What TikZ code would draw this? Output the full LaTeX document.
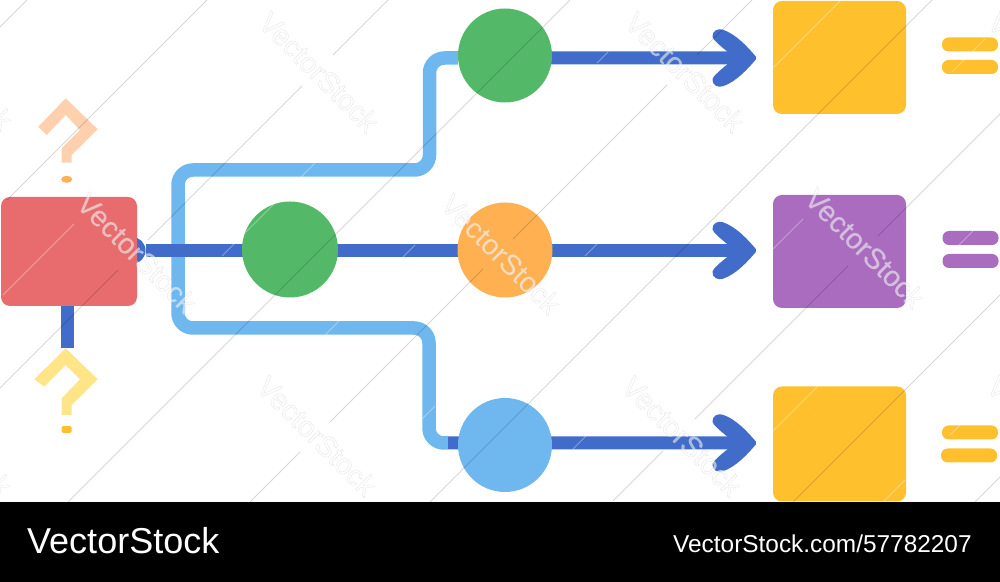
\documentclass[tikz,border=0pt]{standalone}
\usepackage{fontspec}
\setmainfont{Liberation Sans}
\usetikzlibrary{shapes.geometric}
\definecolor{c_red}{HTML}{E86C6D}
\definecolor{c_amber}{HTML}{FFC02E}
\definecolor{c_purple}{HTML}{A96CBF}
\definecolor{c_green}{HTML}{53B969}
\definecolor{c_orange}{HTML}{FFB050}
\definecolor{c_sky}{HTML}{6FB7EF}
\definecolor{c_blue}{HTML}{426CC9}
\definecolor{c_peach}{HTML}{FFD0AE}
\definecolor{c_pale}{HTML}{FFE587}
\newcommand{\wmtext}{\special{pdf:literal direct 2 Tr 0.3 w 0.78 0.78 0.78 RG}VectorStock\special{pdf:literal direct 0 Tr}}
\pgfdeclarelayer{behind}
\pgfsetlayers{behind,main}
\pgfdeclarearrow{
  name=fatbarb,
  setup code={
    \pgfarrowssettipend{0pt}
    \pgfarrowssetlineend{-16bp}
    \pgfarrowssetbackend{-43bp}
  },
  drawing code={
    \pgfpathmoveto{\pgfpoint{0bp}{1.5bp}}
    \pgfpathcurveto{\pgfpoint{-8bp}{11bp}}{\pgfpoint{-20bp}{24bp}}{\pgfpoint{-33bp}{28.3bp}}
    \pgfpathcurveto{\pgfpoint{-38bp}{30bp}}{\pgfpoint{-44bp}{27bp}}{\pgfpoint{-43.3bp}{21bp}}
    \pgfpathcurveto{\pgfpoint{-42.5bp}{18bp}}{\pgfpoint{-36bp}{12.5bp}}{\pgfpoint{-28bp}{6bp}}
    \pgfpathlineto{\pgfpoint{-22bp}{0bp}}
    \pgfpathlineto{\pgfpoint{-28bp}{-6bp}}
    \pgfpathcurveto{\pgfpoint{-36bp}{-12.5bp}}{\pgfpoint{-42.5bp}{-18bp}}{\pgfpoint{-43.3bp}{-21bp}}
    \pgfpathcurveto{\pgfpoint{-44bp}{-27bp}}{\pgfpoint{-38bp}{-30bp}}{\pgfpoint{-33bp}{-28.3bp}}
    \pgfpathcurveto{\pgfpoint{-20bp}{-24bp}}{\pgfpoint{-8bp}{-11bp}}{\pgfpoint{0bp}{-1.5bp}}
    \pgfpathclose
    \pgfusepathqfill
  }
}
\tikzset{
  boxnode/.style={draw=none,rectangle,rounded corners=9bp,inner sep=0pt},
  dotnode/.style={draw=none,circle,inner sep=0pt},
  barnode/.style={draw=none,rectangle,rounded corners=6.5bp,inner sep=0pt,minimum width=56bp,minimum height=14bp},
  pipe/.style={c_sky,line width=13.5bp,rounded corners=15bp},
  flow/.style={c_blue,line width=13bp},
  flowtip/.style={c_blue,line width=13bp,-fatbarb,shorten >=17bp},
  hairgray/.style={black,opacity=.16,line width=.8bp},
  hairwhite/.style={white,opacity=.35,line width=.8bp},
  wmnode/.style={text=white,text opacity=.55,rotate=-45,inner sep=0pt,font=\fontsize{29bp}{30bp}\selectfont},
  footnode/.style={text=white,inner sep=0pt,anchor=base west},
}
\begin{document}
\begin{tikzpicture}[>=latex,line join=round]
\useasboundingbox (0bp,0bp) rectangle (1000bp,582bp);
%%
\node (node_red) at (69bp,330.5bp) [boxnode,fill=c_red,minimum width=136bp,minimum height=109bp] {};
  \node (node_top) at (839.5bp,524.5bp) [boxnode,fill=c_amber,minimum width=133bp,minimum height=113bp] {};
  \node (node_mid) at (839.5bp,330.5bp) [boxnode,fill=c_purple,minimum width=133bp,minimum height=113bp] {};
  \node (node_low) at (839.5bp,138bp) [boxnode,fill=c_amber,minimum width=133bp,minimum height=115bp] {};
  \node (node_green) at (290bp,332.5bp) [dotnode,fill=c_green,minimum size=96bp] {};
  \node (node_c1) at (505bp,526.5bp) [dotnode,fill=c_green,minimum size=94bp] {};
  \node (node_c2) at (505bp,332bp) [dotnode,fill=c_orange,minimum size=95bp] {};
  \node (node_c3) at (505bp,137bp) [dotnode,fill=c_sky,minimum size=94bp] {};
  \coordinate (node_stub) at (448bp,139bp);
  \coordinate (node_stem) at (67.5bp,234bp);
%% connectors go behind the nodes
\begin{pgfonlayer}{behind}
  \draw [pipe] ([yshift=-2.5bp]node_c1.west) -- (429.5bp,524bp) -- (429.5bp,412bp) -- (178bp,412bp) -- (178bp,254bp) -- (429bp,254bp) -- (429bp,139bp) -- (node_stub);
  \node (node_start) at (132bp,331.5bp) [dotnode,fill=c_blue,minimum size=27bp] {};
  \draw [flow] (node_start) -- (node_start -| node_green) -- (node_start -| node_c2);
  \draw [flow] (node_stem |- node_red.south) -- (node_stem);
  \draw [flowtip] ([yshift=-2.5bp]node_c1.center) -- ([yshift=-.5bp]node_top.west);
  \draw [flowtip] (node_start -| node_c2) -- (node_start -| node_mid.west);
  \draw [flowtip] (node_stub) -- ([yshift=1bp]node_low.west);
\end{pgfonlayer}
%% question marks
\fill [c_peach] (38.3bp,455.3bp) -- (65.7bp,483.7bp) -- (97.7bp,452.7bp) -- (71.7bp,427bp) -- (71.7bp,419.3bp) -- (61.7bp,419.3bp) -- (61.7bp,433.7bp) -- (80bp,452bp) -- (65.7bp,467bp) -- (46.7bp,447bp) -- cycle;
\fill [c_pale] (34.3bp,202.7bp) -- (65.7bp,233.7bp) -- (97.7bp,202.7bp) -- (71.7bp,177bp) -- (71.7bp,167bp) -- (61.7bp,167bp) -- (61.7bp,183.7bp) -- (80bp,202.7bp) -- (65.7bp,217bp) -- (44.3bp,195.3bp) -- cycle;
\node (node_qa) at (66.7bp,402.7bp) [draw=none,ellipse,inner sep=0pt,fill=c_orange,minimum width=11bp,minimum height=7bp] {};
\node (node_qb) at (66.7bp,152.5bp) [draw=none,rectangle,rounded corners=1.5bp,inner sep=0pt,fill=c_amber,minimum width=10bp,minimum height=7bp] {};
%% bars
\node (node_bar_a) at (970bp,537.5bp) [barnode,fill=c_amber] {};
\node (node_bar_b) at (970bp,515bp) [barnode,fill=c_amber] {};
\node (node_bar_c) at (970.5bp,344bp) [barnode,fill=c_purple] {};
\node (node_bar_d) at (970.5bp,321bp) [barnode,fill=c_purple] {};
\node (node_bar_e) at (970bp,149.5bp) [barnode,fill=c_amber] {};
\node (node_bar_f) at (969bp,126.5bp) [barnode,fill=c_amber] {};
%% hair lines, sum of image x and y / first x / last x
\foreach \s/\a/\b in {27/0/27,207/7/207,388/0/118,388/148/302,388/333/388,570/68/570,752/250/300,752/330/483,752/513/667,752/697/752,932/430/932,1114/613/663,1114/695/848,1114/878/1000,1295/793/1000,1477/973/1000}
  \draw [hairgray] (\a bp,{582bp-\s bp+\a bp}) -- (\b bp,{582bp-\s bp+\b bp});
\foreach \s/\a/\b in {298/3/74,478/222/317,660/325/340,660/403/415,660/597/608,841/422/435,841/585/597,841/773/842,1022/573/587,1022/773/803,1024/952/985,1204/773/817,1204/958/973,1385/880/905,1385/950/960}
  \draw [hairwhite] (\a bp,{582bp-\s bp+\a bp}) -- (\b bp,{582bp-\s bp+\b bp});
%% marks
\foreach \i/\x/\y in {a/-47/512,b/319/510,c/685/510,d/1048/510,e/137/329,f/501/328,g/865/334,h/-48/146,i/317/146,j/682/146,k/1047/146}
  \node (node_mark_\i) at (\x bp,\y bp) [wmnode] {\wmtext};
%% footer
\fill [black] (0bp,0bp) rectangle (1000bp,80bp);
\node (node_foot_a) at (27bp,29bp) [footnode,font=\fontsize{36bp}{38bp}\selectfont] {VectorStock};
\node (node_foot_b) at (673bp,29.3bp) [footnode,font=\fontsize{24.4bp}{26bp}\selectfont] {VectorStock.com/57782207};
%
\end{tikzpicture}
\end{document}
